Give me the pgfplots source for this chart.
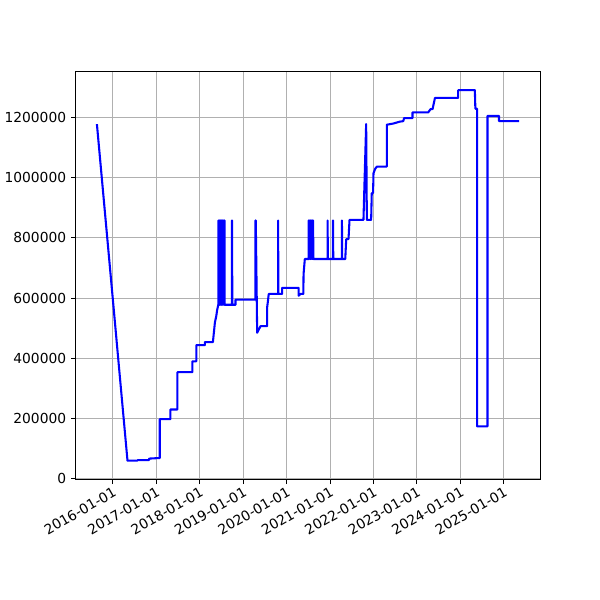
\documentclass[border=0pt]{standalone}
\usepackage{fontspec}
\setmainfont{DejaVu Sans}
\usepackage{pgfplots}
\pgfplotsset{compat=1.18}
\begin{document}
\begin{tikzpicture}
\fontsize{10pt}{12pt}\selectfont
% page frame: 6in x 6in like the 600x600 reference
\path (-0.75in,-1.2in) rectangle (5.25in,4.8in);
\begin{axis}[
    at={(0,0)}, anchor=south west,
    width=4.65in, height=4.08in, scale only axis,
    xmin=2015.148, xmax=2025.835,
    ymin=-1500, ymax=1351500,
    xtick={2016,2017,2018,2019,2020,2021,2022,2023,2024,2025},
    xticklabels={2016-01-01,2017-01-01,2018-01-01,2019-01-01,2020-01-01,2021-01-01,2022-01-01,2023-01-01,2024-01-01,2025-01-01},
    xticklabel style={rotate=30, anchor=north east, inner sep=1pt},
    ytick={0,200000,400000,600000,800000,1000000,1200000},
    scaled y ticks=false,
    yticklabel style={/pgf/number format/.cd, fixed, 1000 sep={}, assume math mode=true},
    xtick pos=left, ytick pos=left,
    tick align=outside,
    major tick length=3.5pt,
    every tick/.style={black, line width=0.8pt},
    grid=major,
    grid style={color={rgb,255:red,176;green,176;blue,176}, line width=0.8pt},
    axis line style={line width=0.8pt},
    clip=true,
]
\addplot[blue, line width=1.5pt, line join=round] coordinates {
(2015.633,1178000)
(2016.337,60000)
(2016.567,60000)(2016.567,62000)
(2016.833,62000)(2016.833,67000)
(2017.079,69000)(2017.079,198000)
(2017.325,198000)(2017.325,230000)
(2017.485,230000)(2017.485,354000)
(2017.830,354000)(2017.830,390000)
(2017.921,390000)(2017.921,444000)
(2018.119,444000)(2018.119,454000)
(2018.303,454000)(2018.35,520000)(2018.38,540000)(2018.40,560000)(2018.427,578000)
(2018.43,858000)(2018.44,578000)(2018.45,858000)(2018.46,578000)(2018.47,858000)(2018.48,578000)
(2018.49,858000)(2018.50,578000)(2018.51,858000)(2018.52,578000)(2018.53,858000)(2018.54,578000)
(2018.55,858000)(2018.56,578000)(2018.57,858000)(2018.575,578000)
(2018.743,578000)(2018.743,858000)(2018.75,578000)
(2018.824,578000)(2018.824,595000)
(2019.283,595000)(2019.283,858000)(2019.29,858000)(2019.322,485000)
(2019.375,500000)(2019.40,507000)(2019.552,507000)(2019.552,570000)(2019.57,590000)(2019.588,614000)
(2019.804,614000)(2019.804,858000)(2019.81,614000)
(2019.896,614000)(2019.896,634000)
(2020.277,634000)(2020.277,608000)(2020.316,614000)(2020.385,614000)(2020.39,680000)(2020.419,730000)
(2020.51,730000)(2020.51,858000)(2020.52,730000)(2020.53,858000)(2020.54,730000)(2020.55,858000)
(2020.56,730000)(2020.57,858000)(2020.58,730000)(2020.59,858000)(2020.60,730000)(2020.61,858000)(2020.615,730000)
(2020.943,730000)(2020.943,858000)(2020.95,730000)
(2021.067,730000)(2021.067,858000)(2021.074,730000)
(2021.273,730000)(2021.273,858000)(2021.28,730000)
(2021.35,730000)(2021.372,796000)(2021.425,796000)(2021.448,860000)
(2021.769,860000)(2021.831,1178000)(2021.847,860000)
(2021.946,860000)(2021.96,949000)(2021.99,949000)(2022.0,1015000)(2022.04,1030000)(2022.08,1037000)
(2022.306,1037000)(2022.306,1176000)
(2022.458,1180000)(2022.6,1186000)(2022.687,1188000)(2022.703,1198000)
(2022.898,1198000)(2022.898,1217000)
(2023.26,1217000)(2023.315,1228000)(2023.36,1228000)(2023.415,1265000)
(2023.95,1265000)(2023.95,1291000)
(2024.333,1291000)(2024.345,1229000)(2024.386,1229000)(2024.386,174000)
(2024.624,174000)(2024.624,1205000)
(2024.889,1205000)(2024.889,1188000)
(2025.35,1188000)
};
\end{axis}
\end{tikzpicture}
\end{document}
